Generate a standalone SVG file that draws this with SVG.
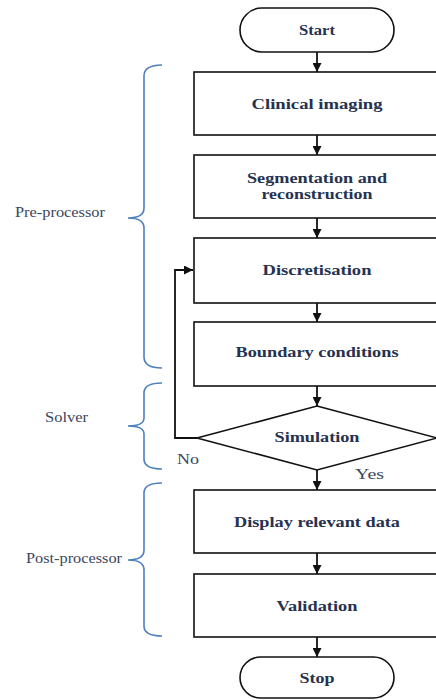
<svg xmlns="http://www.w3.org/2000/svg" width="436" height="700" viewBox="0 0 436 700">
<style>
.box{fill:#fff;stroke:#111;stroke-width:1.6}
.t{font-family:"Liberation Serif","DejaVu Serif","Times New Roman",serif;font-weight:bold;font-size:14px;fill:#26324f;text-anchor:middle}
.lab{font-family:"Liberation Serif","DejaVu Serif","Times New Roman",serif;font-size:14px;fill:#3a4660}
.brace{fill:none;stroke:#4f81bd;stroke-width:1.6}
.c{fill:none;stroke:#111;stroke-width:1.8}
</style>
<defs>
<marker id="ah" viewBox="0 0 10 10" refX="10" refY="5" markerWidth="9" markerHeight="9" markerUnits="userSpaceOnUse" orient="auto">
<path d="M0,0 L10,5 L0,10 z" fill="#111"/>
</marker>
</defs>
<rect width="436" height="700" fill="#fff"/>
<g id="braces">
<path class="brace" d="M162,65 Q144,65 144,76 L144,208 Q144,218 128,218 Q144,218 144,228 L144,357 Q144,368 162,368"/>
<path class="brace" d="M162,383 Q144,383 144,393 L144,418 Q144,426 128,426 Q144,426 144,434 L144,459 Q144,469 162,469"/>
<path class="brace" d="M162,483 Q144,483 144,493 L144,550 Q144,560 128,560 Q144,560 144,570 L144,626 Q144,636 162,636"/>
</g>
<g id="labels">
<text class="lab" x="15" y="217" textLength="90" lengthAdjust="spacingAndGlyphs">Pre-processor</text>
<text class="lab" x="45" y="422" textLength="43" lengthAdjust="spacingAndGlyphs">Solver</text>
<text class="lab" x="26" y="563" textLength="96" lengthAdjust="spacingAndGlyphs">Post-processor</text>
</g>
<g id="connectors">
<line class="c" x1="317" y1="52" x2="317" y2="72" marker-end="url(#ah)"/>
<line class="c" x1="317" y1="135" x2="317" y2="155" marker-end="url(#ah)"/>
<line class="c" x1="317" y1="218" x2="317" y2="238" marker-end="url(#ah)"/>
<line class="c" x1="317" y1="303" x2="317" y2="322" marker-end="url(#ah)"/>
<line class="c" x1="317" y1="386" x2="317" y2="406" marker-end="url(#ah)"/>
<line class="c" x1="317" y1="470" x2="317" y2="490" marker-end="url(#ah)"/>
<line class="c" x1="317" y1="553" x2="317" y2="574" marker-end="url(#ah)"/>
<line class="c" x1="317" y1="637" x2="317" y2="657" marker-end="url(#ah)"/>
<polyline class="c" points="197,438 175,438 175,270 193,270" marker-end="url(#ah)"/>
<text class="lab" x="177" y="464" textLength="22" lengthAdjust="spacingAndGlyphs">No</text>
<text class="lab" x="355" y="479" textLength="29" lengthAdjust="spacingAndGlyphs">Yes</text>
</g>
<g id="start">
<rect class="box" x="240" y="8" width="154" height="44" rx="22"/>
<text class="t" x="317" y="35" textLength="36" lengthAdjust="spacingAndGlyphs">Start</text>
</g>
<g id="clinical">
<rect class="box" x="194" y="72" width="246" height="63"/>
<text class="t" x="317" y="109" textLength="131" lengthAdjust="spacingAndGlyphs">Clinical imaging</text>
</g>
<g id="segmentation">
<rect class="box" x="194" y="155" width="246" height="63"/>
<text class="t" x="317" y="183" textLength="140" lengthAdjust="spacingAndGlyphs">Segmentation and</text>
<text class="t" x="317" y="199" textLength="111" lengthAdjust="spacingAndGlyphs">reconstruction</text>
</g>
<g id="discretisation">
<rect class="box" x="194" y="238" width="246" height="65"/>
<text class="t" x="317" y="275" textLength="109" lengthAdjust="spacingAndGlyphs">Discretisation</text>
</g>
<g id="boundary">
<rect class="box" x="194" y="322" width="246" height="64"/>
<text class="t" x="317" y="357" textLength="163" lengthAdjust="spacingAndGlyphs">Boundary conditions</text>
</g>
<g id="simulation">
<polygon class="box" points="317,406 437,438 317,470 197,438"/>
<text class="t" x="317" y="442" textLength="85" lengthAdjust="spacingAndGlyphs">Simulation</text>
</g>
<g id="display">
<rect class="box" x="194" y="490" width="246" height="63"/>
<text class="t" x="317" y="527" textLength="166" lengthAdjust="spacingAndGlyphs">Display relevant data</text>
</g>
<g id="validation">
<rect class="box" x="194" y="574" width="246" height="63"/>
<text class="t" x="317" y="611" textLength="81" lengthAdjust="spacingAndGlyphs">Validation</text>
</g>
<g id="stop">
<rect class="box" x="240" y="657" width="154" height="41" rx="20.5"/>
<text class="t" x="317" y="683" textLength="35" lengthAdjust="spacingAndGlyphs">Stop</text>
</g>
</svg>
